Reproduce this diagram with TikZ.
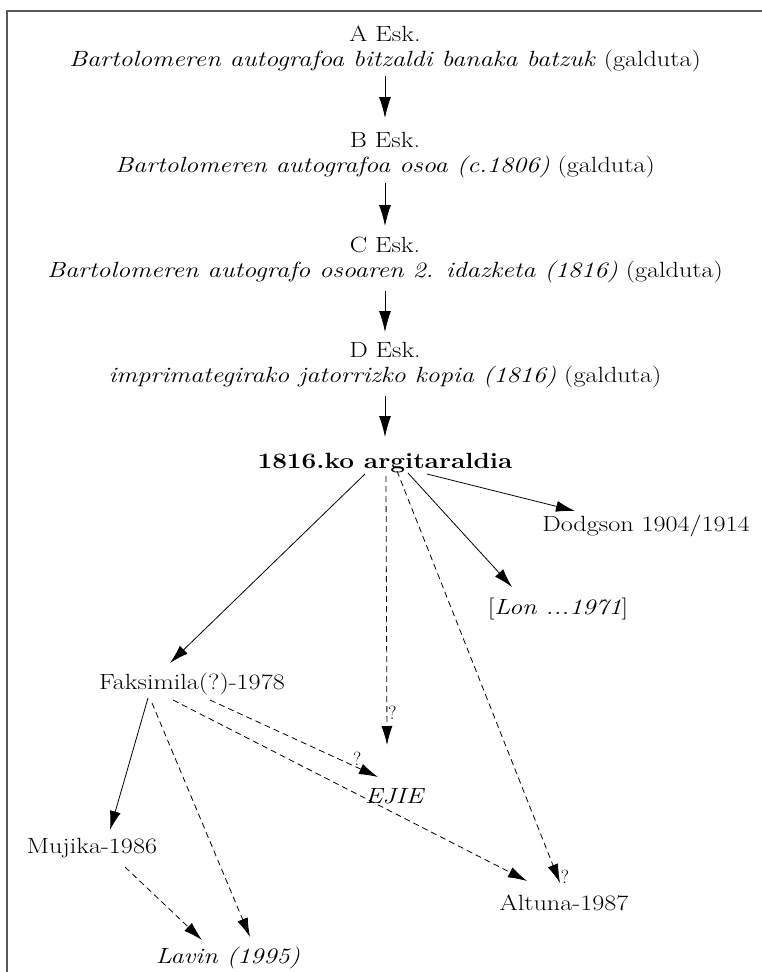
\documentclass[tikz,border=0pt]{standalone}
\usetikzlibrary{arrows.meta,calc}
\newcommand{\xs}[1]{\scalebox{1.19}[1]{#1}}
\begin{document}
\begin{tikzpicture}[x=1pt,y=-1pt,
  txt/.style={font=\fontsize{22}{26}\selectfont, inner sep=2pt},
  sArr/.style={line width=0.8pt, -{Latex[length=19pt,width=11pt]}},
  dArr/.style={line width=0.8pt, dash pattern=on 6pt off 4pt, -{Latex[length=19pt,width=11pt]}},
  vArr/.style={line width=0.8pt, -{Latex[length=21pt,width=12pt]}},
  qm/.style={font=\fontsize{19}{19}\selectfont, inner sep=1pt}]
\useasboundingbox (0,0) rectangle (762,972);
\fill[white] (0,0) rectangle (762,972);
\draw[black!65, line width=1.6pt] (7,972) -- (7,11) -- (762,11);

\node[txt] (aE) at (385,34) {\xs{A Esk.}};
\node[txt] (aT) at (385,61) {\xs{\textit{Bartolomeren autografoa bitzaldi banaka batzuk} (galduta)}};
\node[txt] (bE) at (385,140) {\xs{B Esk.}};
\node[txt] (bT) at (385,167) {\xs{\textit{Bartolomeren autografoa osoa (c.1806)} (galduta)}};
\node[txt] (cE) at (385,245) {\xs{C Esk.}};
\node[txt] (cT) at (385,272) {\xs{\textit{Bartolomeren autografo osoaren 2. idazketa (1816)} (galduta)}};
\node[txt] (dE) at (385,350) {\xs{D Esk.}};
\node[txt] (dT) at (385,377) {\xs{\textit{imprimategirako jatorrizko kopia (1816)} (galduta)}};
\node[txt, font=\fontsize{22}{26}\selectfont\bfseries] (ed) at (385,463) {\xs{1816.ko argitaraldia}};
\node[txt] (dod) at (646,526) {\xs{Dodgson 1904/1914}};
\node[txt] (lon) at (558,609) {\xs{[\textit{Lon ...1971}]}};
\node[txt] (fak) at (192,684) {\xs{Faksimila(?)-1978}};
\node[txt] (ejie) at (395,796) {\xs{\textit{EJIE}}};
\node[txt] (muj) at (92,848) {\xs{Mujika-1986}};
\node[txt] (alt) at (564,903) {\xs{Altuna-1987}};
\node[txt] (lav) at (228,958) {\xs{\textit{Lavin (1995)}}};

\draw[vArr] ($(aT)+(0,15)$) -- ($(bE)+(0,-22)$);
\draw[vArr] ($(bT)+(0,16)$) -- ($(cE)+(0,-19)$);
\draw[vArr] ($(cT)+(0,19)$) -- ($(dE)+(0,-18)$);
\draw[vArr] ($(dT)+(0,19)$) -- ($(ed)+(0,-26)$);

\draw[sArr] ($(ed)+(-20,11)$) -- ($(fak)+(-22,-21)$);
\draw[sArr] ($(ed)+(42,11)$) -- ($(dod)+(-71,-15)$);
\draw[sArr] ($(ed)+(23,10)$) -- ($(lon)+(-46,-22)$);
\draw[dArr] ($(ed)+(1,13)$) -- node[qm, pos=0.88, right] {?} ($(ejie)+(-8,-51)$);
\draw[dArr] ($(ed)+(12,8)$) -- node[qm, pos=0.985, right, xshift=2pt] {?} ($(alt)+(-4,-20)$);

\draw[sArr] ($(fak)+(-44,14)$) -- ($(muj)+(18,-18)$);
\draw[dArr] ($(fak)+(-40,19)$) -- ($(lav)+(22,-21)$);
\draw[dArr] ($(fak)+(18,16)$) -- node[qm, pos=0.9, above, xshift=-4pt, yshift=2pt] {?} ($(ejie)+(-17,-19)$);
\draw[dArr] ($(fak)+(-19,16)$) -- ($(alt)+(-37,-22)$);
\draw[dArr] ($(muj)+(33,19)$) -- ($(lav)+(-26,-18)$);
\end{tikzpicture}
\end{document}
